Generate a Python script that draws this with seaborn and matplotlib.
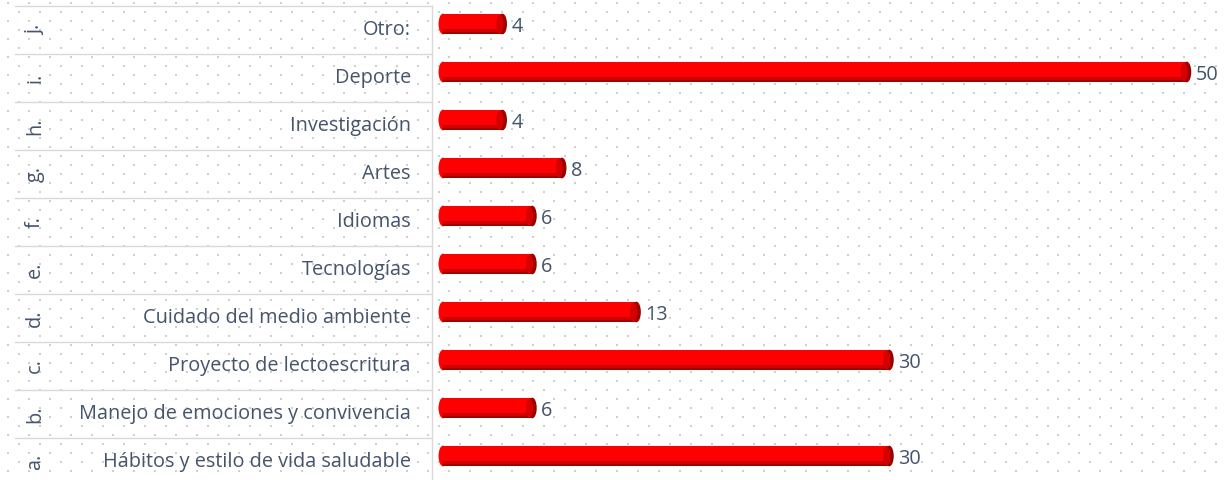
import numpy as np
import pandas as pd
import matplotlib
matplotlib.use("Agg")
import matplotlib.pyplot as plt
from matplotlib.patches import Ellipse, Rectangle
import seaborn as sns

# categories listed top to bottom as they appear
letters = ["j.", "i.", "h.", "g.", "f.", "e.", "d.", "c.", "b.", "a."]
names = ["Otro:", "Deporte", "Investigación", "Artes", "Idiomas", "Tecnologías",
         "Cuidado del medio ambiente", "Proyecto de lectoescritura",
         "Manejo de emociones y convivencia", "Hábitos y estilo de vida saludable"]
values = [4, 50, 4, 8, 6, 6, 13, 30, 6, 30]

TEXT = "#44546A"
GRID = "#D9D9D9"
FS = 14.3

sns.set_theme(style="white")
plt.rcParams["font.family"] = ["Open Sans", "DejaVu Sans"]

W, H = 1224, 480
fig = plt.figure(figsize=(W / 100, H / 100), dpi=100)

# dotted background texture
bg = fig.add_axes([0, 0, 1, 1], zorder=0)
bg.set_xlim(0, W)
bg.set_ylim(H, 0)
bg.axis("off")
rows_y = np.arange(3, H, 9)
pts_x, pts_y = [], []
for k, yy in enumerate(rows_y):
    xs = np.arange(8 + (10.5 if k % 2 else 0), W, 21)
    pts_x.extend(xs)
    pts_y.extend([yy] * len(xs))
bg.scatter(pts_x, pts_y, s=1.8, marker="s", color="#CFCFCF", linewidths=0)

# main plot area
ax_left, ax_top = 432, 6
ax = fig.add_axes([ax_left / W, 1 - (ax_top + 480) / H, (W - ax_left) / W, 480 / H], zorder=1)
ax.patch.set_alpha(0)

df = pd.DataFrame({"name": names, "value": values})
sns.barplot(data=df, x="value", y="name", orient="h", color="#FF0000",
            width=0.43, saturation=1, edgecolor="none", ax=ax)

off = 0.125
ax.set_xlim(-0.74, 52.5)
ax.set_ylim(len(names) - 0.5 + off, -0.5 + off)

# cylinder shading on each bar
cap_w = 0.6
for p in list(ax.patches):
    x0, y0 = p.get_x(), p.get_y()
    w, h = p.get_width(), p.get_height()
    yc = y0 + h / 2
    ax.add_patch(Rectangle((x0, y0 + h * 0.75), w, h * 0.25, color="#CC0000", lw=0, zorder=3))
    ax.add_patch(Rectangle((x0, y0 + h * 0.9), w, h * 0.1, color="#A00000", lw=0, zorder=3))
    ax.add_patch(Ellipse((x0, yc), cap_w, h, color="#FF0000", lw=0, zorder=2.5))
    ax.add_patch(Ellipse((x0 + w, yc), cap_w, h, color="#9E0000", lw=0, zorder=4))
    ax.add_patch(Ellipse((x0 + w - 0.18, yc), cap_w * 0.8, h * 0.92, color="#D40000", lw=0, zorder=4))

for i, v in enumerate(values):
    ax.text(v + 0.6, i + 0.06, str(v), ha="left", va="center", fontsize=FS, color=TEXT)

ax.set_xticks([])
ax.set_yticks([])
ax.set_xlabel("")
ax.set_ylabel("")
for s in ["top", "right", "bottom"]:
    ax.spines[s].set_visible(False)
ax.spines["left"].set_color(GRID)
ax.spines["left"].set_linewidth(1.0)

# two-level category labels
tr = ax.get_yaxis_transform()
lab_x = (411 - ax_left) / (W - ax_left)
let_x = (35 - ax_left) / (W - ax_left)
sep_x = (15 - ax_left) / (W - ax_left)
for i, (lt, nm) in enumerate(zip(letters, names)):
    yc = i + off
    ax.text(lab_x, yc, nm, transform=tr, ha="right", va="center", fontsize=FS,
            color=TEXT, clip_on=False)
    ax.text(let_x, yc, lt, transform=tr, ha="center", va="center", fontsize=FS,
            color=TEXT, rotation=90, clip_on=False)
for i in range(len(names) + 1):
    yy = i - 0.5 + off
    ax.plot([sep_x, 0], [yy, yy], transform=tr, color=GRID, lw=1.0, clip_on=False)

fig.savefig("out.png", dpi=100)
